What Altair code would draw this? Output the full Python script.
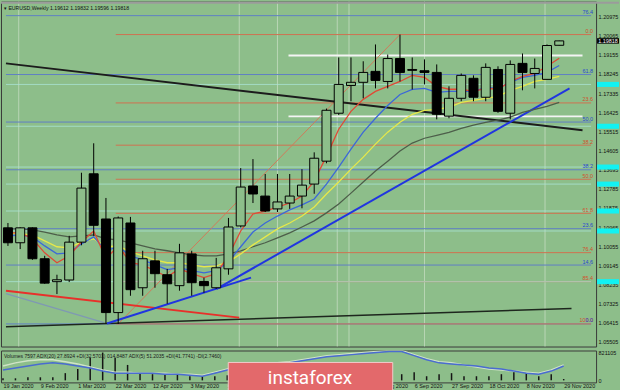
import altair as alt
import pandas as pd

# ---------------- data ----------------
week_idx = list(range(46))
date_ticks = [0, 3, 6, 9, 12, 15, 18, 21, 24, 27, 30, 33, 36, 39, 42, 45]
date_labels = ["19 Jan 2020", "9 Feb 2020", "1 Mar 2020", "22 Mar 2020", "12 Apr 2020",
               "3 May 2020", "24 May 2020", "14 Jun 2020", "5 Jul 2020", "26 Jul 2020",
               "16 Aug 2020", "6 Sep 2020", "27 Sep 2020", "18 Oct 2020", "8 Nov 2020",
               "29 Nov 2020"]

open_ = [1.1093, 1.1022, 1.1093, 1.0946, 1.0837, 1.0845, 1.1025, 1.1350, 1.1135, 1.0690,
         1.1116, 1.0808, 1.0936, 1.0870, 1.0818, 1.0969, 1.0838, 1.0808, 1.0898, 1.1102,
         1.1292, 1.1244, 1.1183, 1.1211, 1.1244, 1.1301, 1.1410, 1.1638, 1.1770, 1.1785,
         1.1837, 1.1789, 1.1898, 1.1846, 1.1840, 1.1832, 1.1624, 1.1709, 1.1804, 1.1714,
         1.1846, 1.1638, 1.1875, 1.1827, 1.1799, 1.1961]
high = [1.1116, 1.1096, 1.1095, 1.0960, 1.0870, 1.1055, 1.1355, 1.1495, 1.1235, 1.1147,
        1.1145, 1.0984, 1.0984, 1.0898, 1.1017, 1.0984, 1.0856, 1.0950, 1.1140, 1.1377,
        1.1420, 1.1349, 1.1349, 1.1349, 1.1372, 1.1452, 1.1660, 1.1903, 1.1903, 1.1885,
        1.1965, 1.1917, 1.2012, 1.1903, 1.1894, 1.1870, 1.1766, 1.1827, 1.1818, 1.1875,
        1.1861, 1.1889, 1.1922, 1.1898, 1.1965, 1.1983]
low = [1.1007, 1.0992, 1.0941, 1.0827, 1.0778, 1.0835, 1.1010, 1.1055, 1.0638, 1.0636,
       1.0770, 1.0770, 1.0808, 1.0732, 1.0794, 1.0770, 1.0784, 1.0803, 1.0870, 1.1095,
       1.1211, 1.1168, 1.1168, 1.1183, 1.1186, 1.1255, 1.1400, 1.1630, 1.1695, 1.1709,
       1.1756, 1.1756, 1.1789, 1.1751, 1.1775, 1.1609, 1.1614, 1.1695, 1.1695, 1.1695,
       1.1640, 1.1609, 1.1747, 1.1756, 1.1799, 1.1960]
close = [1.1022, 1.1093, 1.0946, 1.0830, 1.0846, 1.1025, 1.1282, 1.1105, 1.0690, 1.1140,
         1.0799, 1.0946, 1.0875, 1.0827, 1.0974, 1.0832, 1.0818, 1.0903, 1.1097, 1.1287,
         1.1254, 1.1173, 1.1216, 1.1244, 1.1296, 1.1424, 1.1652, 1.1775, 1.1785, 1.1832,
         1.1794, 1.1898, 1.1832, 1.1842, 1.1832, 1.1633, 1.1709, 1.1818, 1.1714, 1.1856,
         1.1647, 1.1870, 1.1832, 1.1851, 1.1960, 1.1982]

ma_red = [1.1069, 1.1069, 1.1041, 1.0974, 1.0927, 1.0960, 1.1026, 1.1078, 1.0946, 1.1007,
          1.0927, 1.0917, 1.0889, 1.0860, 1.0898, 1.0875, 1.0856, 1.0875, 1.0960, 1.1078,
          1.1159, 1.1173, 1.1192, 1.1211, 1.1244, 1.1315, 1.1434, 1.1562, 1.1647, 1.1704,
          1.1742, 1.1766, 1.1789, 1.1818, 1.1808, 1.1766, 1.1752, 1.1752, 1.1742, 1.1756,
          1.1752, 1.1789, 1.1813, 1.1827, 1.1861, 1.1899]
ma_blue = [1.1055, 1.1059, 1.1050, 1.1007, 1.0969, 1.0974, 1.1017, 1.1050, 1.0984, 1.1003,
           1.0960, 1.0941, 1.0917, 1.0894, 1.0903, 1.0889, 1.0879, 1.0889, 1.0931, 1.1003,
           1.1073, 1.1116, 1.1149, 1.1178, 1.1202, 1.1230, 1.1301, 1.1382, 1.1467, 1.1548,
           1.1614, 1.1675, 1.1727, 1.1751, 1.1756, 1.1737, 1.1742, 1.1742, 1.1742, 1.1761,
           1.1756, 1.1785, 1.1808, 1.1818, 1.1832, 1.1865]
ma_yellow = [1.1069, 1.1064, 1.1059, 1.1031, 1.1003, 1.0998, 1.1026, 1.1041, 1.1003, 1.1007,
             1.0979, 1.0960, 1.0941, 1.0927, 1.0927, 1.0917, 1.0908, 1.0912, 1.0931, 1.0969,
             1.1012, 1.1050, 1.1088, 1.1116, 1.1149, 1.1192, 1.1254, 1.1311, 1.1372, 1.1429,
             1.1491, 1.1548, 1.1595, 1.1633, 1.1652, 1.1656, 1.1666, 1.1690, 1.1699, 1.1709,
             1.1718, 1.1747, 1.1766, 1.1789, 1.1799, 1.1813]
ma_dark = [1.1088, 1.1088, 1.1083, 1.1073, 1.1059, 1.1050, 1.1055, 1.1059, 1.1041, 1.1036,
           1.1022, 1.1007, 1.0993, 1.0984, 1.0974, 1.0965, 1.0960, 1.0960, 1.0969, 1.0984,
           1.1003, 1.1022, 1.1045, 1.1069, 1.1097, 1.1126, 1.1164, 1.1206, 1.1258, 1.1311,
           1.1363, 1.1410, 1.1458, 1.1496, 1.1519, 1.1533, 1.1547, 1.1566, 1.1581, 1.1595,
           1.1605, 1.1619, 1.1642, 1.1656, 1.1671, 1.1690]

volume = [61000, 61000, 91000, 91000, 91000, 213000, 334000, 668000, 819000, 668000,
          455000, 213000, 182000, 182000, 182000, 122000, 122000, 122000, 150000, 180000,
          160000, 140000, 130000, 120000, 130000, 160000, 200000, 220000, 180000, 170000,
          190000, 180000, 182000, 243000, 122000, 182000, 213000, 122000, 122000, 122000,
          182000, 243000, 213000, 122000, 182000, 40000]
ad_blue = [303700, 364300, 425000, 485700, 516000, 485700, 425000, 364300, 273300, 212700,
           212700, 212700, 212700, 182300, 182300, 152000, 121700, 212700, 303700, 364300,
           394700, 455300, 485700, 516000, 576700, 637300, 698000, 728300, 758700, 789000,
           819300, 849700, 849700, 728300, 607000, 516000, 485700, 455300, 425000, 364300,
           334000, 273300, 212700, 182300, 273300, 425000]
ad_pale = [425000, 516000, 576700, 607000, 607000, 546300, 485700, 394700, 303700, 243000,
           243000, 212700, 212700, 212700, 182300, 182300, 152000, 243000, 334000, 394700,
           425000, 485700, 516000, 546300, 607000, 667700, 728300, 758700, 789000, 819300,
           849700, 880000, 880000, 758700, 637300, 546300, 516000, 455300, 394700, 334000,
           303700, 273300, 243000, 212700, 303700, 455300]

price_ticks = [1.20975, 1.20065, 1.19155, 1.18245, 1.17335, 1.16425, 1.15515, 1.14605,
               1.13695, 1.12785, 1.11875, 1.10965, 1.10055, 1.09145, 1.08235, 1.07325,
               1.06415, 1.05505]
vol_ticks = [0, 821105]

fib_red_labels = ["0.0", "23.6", "38.2", "50.0", "61.8", "76.4", "85.4", "100.0"]
fib_red_prices = [1.2012, 1.1687, 1.1486, 1.1324, 1.1162, 1.0975, 1.0837, 1.0636]
fib_blue_labels = ["0.0", "14.6", "23.6", "38.2", "50.0", "61.8", "76.4"]
fib_blue_prices = [1.0636, 1.0916, 1.1089, 1.1369, 1.1596, 1.1822, 1.2102]
cyan_prices = [1.1775, 1.1576, 1.1382, 1.1301, 1.1173, 1.1078, 1.0837]
white_prices = [1.1913, 1.1623]
grid_weeks = [0.88, 18.88, 22.0, 26.88, 27.84, 34.0, 43.84]

trend_name = ["black", "black", "blue1", "blue1", "blue2", "blue2", "red", "red",
              "gray", "gray", "bottom", "bottom", "diag", "diag"]
trend_week = [-0.16, 46.9, 8.08, 19.84, 17.04, 45.84, -0.16, 18.88,
              -0.16, 7.84, -0.16, 46.0, 9.0, 32.0]
trend_price = [1.1875, 1.1557, 1.0638, 1.0856, 1.0803, 1.1756, 1.0794, 1.0666,
               1.0780, 1.0642, 1.0623, 1.0709, 1.0636, 1.2012]

last_price = 1.19818
title_text = "\u25be EURUSD,Weekly  1.19612 1.19832 1.19596 1.19818"
vol_text = ("Volumes 7597  ADX(20) 27.8924 +DI(32.5701) 014.8487  ADX(5) 51.2035 "
            "+DI(41.7741) -DI(2.7460)")

# ---------------- styling / scales ----------------
BG = "#8dbe8a"
X0, X1 = -0.16, 47.6
P_LO, P_HI = 1.05286, 1.21686
FONT = "Liberation Sans"

xscale = alt.Scale(domain=[X0, X1], nice=False, zero=False)
yscale = alt.Scale(domain=[P_LO, P_HI], nice=False, zero=False)
yaxis = alt.Axis(orient="right", values=price_ticks, format=".5f", labelFontSize=5.5,
                 labelColor="#111111", labelFont=FONT, ticks=False, domain=False,
                 grid=False, labelPadding=2, title=None, labelOverlap=False)


def X(f="i"):
    return alt.X(f"{f}:Q", scale=xscale, axis=None)


def Y(f):
    return alt.Y(f"{f}:Q", scale=yscale, axis=yaxis)


cdf = pd.DataFrame({"i": week_idx, "o": open_, "h": high, "l": low, "c": close})
mdf = pd.DataFrame({"i": week_idx, "red": ma_red, "blue": ma_blue,
                    "yellow": ma_yellow, "dark": ma_dark})
frdf = pd.DataFrame({"p": fib_red_prices, "lab": fib_red_labels})
fbdf = pd.DataFrame({"p": fib_blue_prices, "lab": fib_blue_labels})
cydf = pd.DataFrame({"p": cyan_prices})
wdf = pd.DataFrame({"p": white_prices})
gdf = pd.DataFrame({"g": grid_weeks})
tdf = pd.DataFrame({"name": trend_name, "i": trend_week, "p": trend_price})
one = pd.DataFrame({"t": [title_text]})
lp = pd.DataFrame({"p": [last_price], "t": [f"{last_price:.5f}"]})

layers = []
layers.append(alt.Chart(gdf).mark_rule(color="#c4dcc0", strokeWidth=1, opacity=0.8)
              .encode(x=X("g")))
layers.append(alt.Chart(fbdf).mark_rule(color="#5f7fc4", strokeWidth=1)
              .transform_calculate(s=str(X0), e=str(X1))
              .encode(x=X("s"), x2="e:Q", y=Y("p")))
layers.append(alt.Chart(frdf).mark_rule(color="#cf7150", strokeWidth=1)
              .transform_calculate(s="8.8", e=str(X1))
              .encode(x=X("s"), x2="e:Q", y=Y("p")))
layers.append(alt.Chart(cydf).mark_rule(color="#a9e3d6", strokeWidth=1, opacity=0.8)
              .transform_calculate(s=str(X0), e=str(X1))
              .encode(x=X("s"), x2="e:Q", y=Y("p")))
layers.append(alt.Chart(wdf).mark_rule(color="#f4f4f4", strokeWidth=2)
              .transform_calculate(s="22.9", e="46.9")
              .encode(x=X("s"), x2="e:Q", y=Y("p")))

trend_styles = {"diag": ("#d07a5a", 1), "gray": ("#7f98b4", 1.2),
                "bottom": ("#1e261e", 1.5), "red": ("#e8302a", 2),
                "black": ("#1c1c1c", 2), "blue1": ("#2035e0", 2), "blue2": ("#2035e0", 2)}
for nm, (col, w) in trend_styles.items():
    layers.append(alt.Chart(tdf).transform_filter(f"datum.name == '{nm}'")
                  .mark_line(color=col, strokeWidth=w, clip=True)
                  .encode(x=X(), y=Y("p")))

for nm, col in [("dark", "#4d5e4a"), ("yellow", "#e6e84a"), ("blue", "#3c68d8"),
                ("red", "#e04a36")]:
    layers.append(alt.Chart(mdf).mark_line(color=col, strokeWidth=1.3, clip=True)
                  .encode(x=X(), y=Y(nm)))

layers.append(alt.Chart(cdf).mark_rule(color="black", strokeWidth=1)
              .encode(x=X(), y=Y("l"), y2="h"))
layers.append(alt.Chart(cdf).transform_filter("datum.c >= datum.o")
              .mark_bar(size=9, fill=BG, stroke="black", strokeWidth=1)
              .encode(x=X(), y=Y("o"), y2="c"))
layers.append(alt.Chart(cdf).transform_filter("datum.c < datum.o")
              .mark_bar(size=9, fill="black", stroke="black", strokeWidth=1)
              .encode(x=X(), y=Y("o"), y2="c"))

layers.append(alt.Chart(frdf).mark_text(align="right", baseline="bottom", fontSize=5.5,
                                        font=FONT, color="#d2502c", dy=-0.5)
              .encode(x=alt.value(594), y=Y("p"), text="lab:N"))
layers.append(alt.Chart(fbdf).mark_text(align="right", baseline="bottom", fontSize=5.5,
                                        font=FONT, color="#2a48d0", dy=-0.5)
              .encode(x=alt.value(594), y=Y("p"), text="lab:N"))

# axis-side markers
layers.append(alt.Chart(cydf).transform_calculate(lo="datum.p - 0.0012", hi="datum.p + 0.0012")
              .mark_rect(color="#12f2f2")
              .encode(x=alt.value(598), x2=alt.value(620), y=Y("lo"), y2="hi:Q"))
layers.append(alt.Chart(lp).transform_calculate(lo="datum.p - 0.0013", hi="datum.p + 0.0013")
              .mark_rect(color="#000000")
              .encode(x=alt.value(598), x2=alt.value(620), y=Y("lo"), y2="hi:Q"))
layers.append(alt.Chart(lp).mark_text(align="center", baseline="middle", fontSize=5.5,
                                      font=FONT, color="white")
              .encode(x=alt.value(609), y=Y("p"), text="t:N"))

layers.append(alt.Chart(one).mark_rect(color="#9b9b9b")
              .encode(x=alt.value(0), x2=alt.value(620), y=alt.value(0), y2=alt.value(2)))
layers.append(alt.Chart(one).mark_text(align="left", baseline="middle", fontSize=5.2,
                                       font=FONT, color="#111111")
              .encode(x=alt.value(3), y=alt.value(6), text="t:N"))

main = alt.layer(*layers).properties(width=597, height=346)

# ---------------- volume panel ----------------
label_expr = "[" + ",".join(f"'{d}'" for d in date_labels) + "][round(datum.value / 3)]"
vxaxis = alt.Axis(values=date_ticks, labelExpr=label_expr, labelAlign="left",
                  labelFontSize=5.5, labelFont=FONT, labelColor="#111111", ticks=False,
                  domain=False, grid=False, labelPadding=1, labelBaseline="top",
                  labelOverlap=False, labelFlush=False, labelBound=False, title=None)
vscale = alt.Scale(domain=[-60000, 880000], nice=False, zero=False)
vyaxis = alt.Axis(orient="right", values=vol_ticks, format="d", labelFontSize=5.5,
                  labelFont=FONT, labelColor="#111111", ticks=False, domain=False,
                  grid=False, labelPadding=2, title=None)


def VX():
    return alt.X("i:Q", scale=xscale, axis=vxaxis)


def VY(f):
    return alt.Y(f"{f}:Q", scale=vscale, axis=vyaxis)


vdf = pd.DataFrame({"i": week_idx, "v": volume, "z": 0, "adb": ad_blue, "adp": ad_pale})
vone = pd.DataFrame({"t": [vol_text], "logo": ["instaforex"]})

vol = alt.layer(
    alt.Chart(vdf).mark_rule(color="#151515", strokeWidth=1.5).encode(x=VX(), y=VY("z"), y2="v"),
    alt.Chart(vdf).mark_line(color="#cfe3c6", strokeWidth=1.5, clip=True).encode(x=VX(), y=VY("adp")),
    alt.Chart(vdf).mark_line(color="#4a6cd0", strokeWidth=1.5, clip=True).encode(x=VX(), y=VY("adb")),
    alt.Chart(vone).mark_text(align="left", baseline="middle", fontSize=5, font=FONT,
                              color="#1a1a1a").encode(x=alt.value(3), y=alt.value(6), text="t:N"),
    alt.Chart(vone).mark_rect(fill="#e3696b", stroke="#f2c9c9", strokeWidth=1)
    .encode(x=alt.value(228), x2=alt.value(393), y=alt.value(12), y2=alt.value(45)),
    alt.Chart(vone).mark_text(align="center", baseline="alphabetic", fontSize=19,
                              font="Roboto", color="white")
    .encode(x=alt.value(310), y=alt.value(34), text="logo:N"),
).properties(width=597, height=32)

chart = (alt.vconcat(main, vol, spacing=2)
         .properties(background=BG, padding={"left": 0, "top": 0, "right": 0, "bottom": 0})
         .configure(font=FONT)
         .configure_view(stroke="#3a3a3a", strokeWidth=1))

chart.save("out.html", embed_options={"renderer": "svg", "actions": False})
